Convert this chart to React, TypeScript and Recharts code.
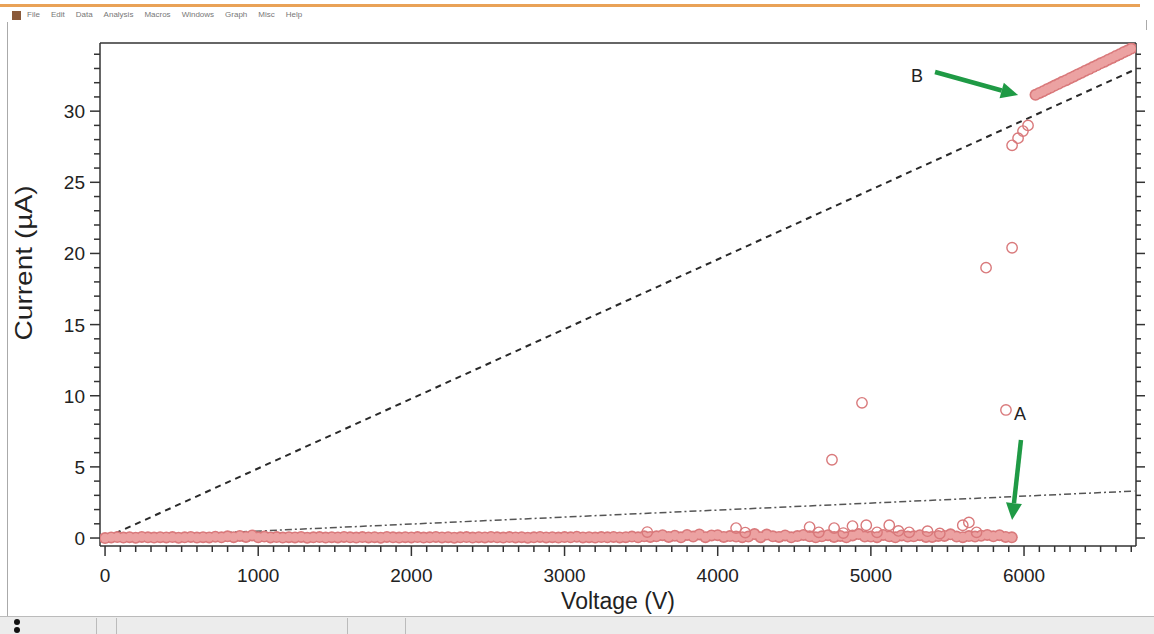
import React from 'react'
import { ComposedChart, Scatter, Line, XAxis, YAxis, ReferenceLine, ReferenceDot } from 'recharts'

// sweep near zero current, 0 .. 5920 V
const bandVoltage = [
  0, 40, 80, 120, 160, 200, 240, 280, 320, 360,
  400, 440, 480, 520, 560, 600, 640, 680, 720, 760,
  800, 840, 880, 920, 960, 1000, 1040, 1080, 1120, 1160,
  1200, 1240, 1280, 1320, 1360, 1400, 1440, 1480, 1520, 1560,
  1600, 1640, 1680, 1720, 1760, 1800, 1840, 1880, 1920, 1960,
  2000, 2040, 2080, 2120, 2160, 2200, 2240, 2280, 2320, 2360,
  2400, 2440, 2480, 2520, 2560, 2600, 2640, 2680, 2720, 2760,
  2800, 2840, 2880, 2920, 2960, 3000, 3040, 3080, 3120, 3160,
  3200, 3240, 3280, 3320, 3360, 3400, 3440, 3480, 3520, 3560,
  3600, 3640, 3680, 3720, 3760, 3800, 3840, 3880, 3920, 3960,
  4000, 4040, 4080, 4120, 4160, 4200, 4240, 4280, 4320, 4360,
  4400, 4440, 4480, 4520, 4560, 4600, 4640, 4680, 4720, 4760,
  4800, 4840, 4880, 4920, 4960, 5000, 5040, 5080, 5120, 5160,
  5200, 5240, 5280, 5320, 5360, 5400, 5440, 5480, 5520, 5560,
  5600, 5640, 5680, 5720, 5760, 5800, 5840, 5880, 5920,
]
const bandCurrent = [
  0.0, 0.04, 0.07, 0.03, 0.06, 0.02, 0.08, 0.05, 0.03, 0.06,
  0.04, 0.07, 0.02, 0.05, 0.08, 0.03, 0.06, 0.04, 0.09, 0.05,
  0.12, 0.06, 0.15, 0.08, 0.18, 0.05, 0.1, 0.04, 0.07, 0.03,
  0.06, 0.04, 0.08, 0.02, 0.05, 0.07, 0.03, 0.06, 0.04, 0.08,
  0.05, 0.03, 0.07, 0.04, 0.06, 0.02, 0.08, 0.05, 0.03, 0.06,
  0.04, 0.07, 0.03, 0.05, 0.08, 0.04, 0.06, 0.02, 0.05, 0.07,
  0.03, 0.06, 0.04, 0.08, 0.05, 0.03, 0.07, 0.04, 0.06, 0.02,
  0.05, 0.08, 0.04, 0.06, 0.03, 0.07, 0.05, 0.09, 0.04, 0.06,
  0.03, 0.07, 0.05, 0.08, 0.04, 0.06, 0.1, 0.05, 0.12, 0.08,
  0.12, 0.2, 0.08, 0.16, 0.05, 0.22, 0.1, 0.25, 0.06, 0.18,
  0.2, 0.08, 0.14, 0.1, 0.06, 0.1, 0.28, 0.06, 0.24, 0.12,
  0.08, 0.18, 0.05, 0.14, 0.22, 0.12, 0.05, 0.12, 0.2, 0.08,
  0.15, 0.05, 0.18, 0.28, 0.1, 0.1, 0.06, 0.22, 0.12, 0.05,
  0.18, 0.1, 0.12, 0.2, 0.08, 0.08, 0.15, 0.15, 0.26, 0.1,
  0.06, 0.14, 0.1, 0.16, 0.22, 0.12, 0.2, 0.08, 0.05,
]

// single readings that jump above the band before breakdown
const spikeVoltage = [
  3540, 4120, 4180, 4600, 4660, 4760, 4820, 4880, 4970, 5040,
  5120, 5180, 5250, 5370, 5450, 5600, 5640, 5690,
]
const spikeCurrent = [
  0.42, 0.7, 0.38, 0.77, 0.4, 0.7, 0.35, 0.84, 0.9, 0.4,
  0.9, 0.5, 0.4, 0.48, 0.32, 0.9, 1.1, 0.4,
]

// scattered points during the transition
const jumpVoltage = [4746, 4942, 5752, 5882, 5922, 5922, 5961, 5993, 6026]
const jumpCurrent = [5.5, 9.5, 19.0, 9.0, 20.4, 27.6, 28.1, 28.6, 29.0]

// upper branch after B
const upperVoltage = [
  6075, 6100, 6125, 6150, 6175, 6200, 6225, 6250, 6275, 6300, 6325, 6350, 6375,
  6400, 6425, 6450, 6475, 6500, 6525, 6550, 6575, 6600, 6625, 6650, 6675, 6700,
]
const upperCurrent = [
  31.15, 31.28, 31.4, 31.54, 31.66, 31.8, 31.92, 32.06, 32.18, 32.32, 32.44, 32.58, 32.7,
  32.84, 32.96, 33.1, 33.22, 33.36, 33.48, 33.62, 33.74, 33.88, 34.0, 34.14, 34.26, 34.4,
]

// reference lines (ohmic fits)
const steepFit = [{ v: 0, i: 0 }, { v: 6720, i: 32.9 }]
const shallowFit = [{ v: 0, i: 0 }, { v: 6720, i: 3.3 }]

// annotations
const arrowB = [{ v: 5419, i: 32.75 }, { v: 5961, i: 31.13 }]
const arrowA = [{ v: 5980, i: 6.89 }, { v: 5922, i: 1.26 }]
const labelB = { v: 5301, i: 32.54 }
const labelA = { v: 5974, i: 8.78 }

const xMajor = [0, 1000, 2000, 3000, 4000, 5000, 6000]
const yMajor = [0, 5, 10, 15, 20, 25, 30]
const xTicks = Array.from({ length: 68 }, (_, k) => k * 100)
const yTicks = Array.from({ length: 35 }, (_, k) => k)

const pts = (vs: number[], is: number[]) => vs.map((v, k) => ({ v, i: is[k] }))
const solidPoints = [...pts(bandVoltage, bandCurrent), ...pts(upperVoltage, upperCurrent)]
const ringPoints = [...pts(spikeVoltage, spikeCurrent), ...pts(jumpVoltage, jumpCurrent)]

const FONT = '"Liberation Sans", Arial, sans-serif'
const AXIS = '#333'
const GREEN = '#1f9a45'
const RING = '#d9797b'

const BottomTick = ({ x, y, payload }: any) => {
  const major = xMajor.includes(payload.value)
  return (
    <g>
      <line x1={x} x2={x} y1={y} y2={y + (major ? 10 : 6)} stroke={AXIS} strokeWidth={1.5} />
      {major && (
        <text x={x} y={y + 36} textAnchor="middle" fontSize={19} fontFamily={FONT} fill="#222">
          {payload.value}
        </text>
      )}
    </g>
  )
}

const TopTick = ({ x, y, payload }: any) => {
  const major = xMajor.includes(payload.value)
  return <line x1={x} x2={x} y1={y} y2={y - (major ? 10 : 5)} stroke={AXIS} strokeWidth={1.5} />
}

const LeftTick = ({ x, y, payload }: any) => {
  const major = yMajor.includes(payload.value)
  return (
    <g>
      <line x1={x} x2={x - (major ? 10 : 6)} y1={y} y2={y} stroke={AXIS} strokeWidth={1.5} />
      {major && (
        <text x={x - 15} y={y + 7} textAnchor="end" fontSize={19} fontFamily={FONT} fill="#222">
          {payload.value}
        </text>
      )}
    </g>
  )
}

const RightTick = ({ x, y, payload }: any) => {
  const major = yMajor.includes(payload.value)
  return <line x1={x} x2={x + (major ? 9 : 5)} y1={y} y2={y} stroke={AXIS} strokeWidth={1.5} />
}

// the dense sweep is drawn in two passes: a dark outer disc, then a lighter inner one
const OuterDisc = ({ cx, cy }: any) => <circle cx={cx} cy={cy} r={6} fill={RING} />
const InnerDisc = ({ cx, cy }: any) => <circle cx={cx} cy={cy} r={4.4} fill="#eca2a2" />

const Ring = ({ cx, cy }: any) => (
  <circle cx={cx} cy={cy} r={5.2} fill="none" stroke={RING} strokeWidth={1.4} />
)

const Arrow = ({ x1, y1, x2, y2 }: any) => {
  const a = Math.atan2(y2 - y1, x2 - x1)
  const hl = 17
  const hw = 8
  const bx = x2 - hl * Math.cos(a)
  const by = y2 - hl * Math.sin(a)
  const nx = -Math.sin(a) * hw
  const ny = Math.cos(a) * hw
  return (
    <g>
      <line x1={x1} y1={y1} x2={bx} y2={by} stroke={GREEN} strokeWidth={4.5} />
      <polygon points={`${x2},${y2} ${bx + nx},${by + ny} ${bx - nx},${by - ny}`} fill={GREEN} />
    </g>
  )
}

const Letter = (text: string) => ({ cx, cy }: any) => (
  <text x={cx} y={cy + 6.5} textAnchor="middle" fontSize={18} fontFamily={FONT} fill="#222">
    {text}
  </text>
)

const menu = ['File', 'Edit', 'Data', 'Analysis', 'Macros', 'Windows', 'Graph', 'Misc', 'Help']

export default function App() {
  return (
    <div style={{ position: 'absolute', left: 0, top: 0, width: 1154, height: 634, background: '#fff', overflow: 'hidden' }}>
      <div style={{ position: 'absolute', left: 0, top: 4, width: 1140, height: 3, background: '#e9a257' }} />
      <div style={{ position: 'absolute', left: 12, top: 11, width: 9, height: 9, background: '#8a5a3a' }} />
      <div style={{ position: 'absolute', left: 27, top: 10, display: 'flex', gap: 11, fontSize: 8, color: '#777', fontFamily: FONT }}>
        {menu.map((m) => (
          <span key={m}>{m}</span>
        ))}
      </div>
      <div style={{ position: 'absolute', left: 7, top: 22, width: 1, height: 594, background: '#aaa' }} />
      <div style={{ position: 'absolute', left: 1146, top: 20, width: 1, height: 10, background: '#aaa' }} />
      <div style={{ position: 'absolute', left: 0, top: 616, width: 1154, height: 18, background: '#ececec', borderTop: '1px solid #bbb' }}>
        <div style={{ position: 'absolute', left: 14, top: 2, width: 6, height: 6, borderRadius: 3, background: '#111' }} />
        <div style={{ position: 'absolute', left: 14, top: 10, width: 6, height: 6, borderRadius: 3, background: '#111' }} />
        {[96, 116, 347, 405].map((x) => (
          <div key={x} style={{ position: 'absolute', left: x, top: 1, width: 1, height: 16, background: '#bbb' }} />
        ))}
      </div>

      <div style={{ position: 'absolute', left: 0, top: 0 }}>
        <ComposedChart width={1154} height={634} margin={{ top: 33, right: 8, bottom: 28, left: 40 }}>
          <XAxis
            xAxisId="b"
            dataKey="v"
            type="number"
            domain={[-33, 6731]}
            allowDataOverflow
            ticks={xTicks}
            interval={0}
            tick={BottomTick}
            tickLine={false}
            tickSize={0}
            tickMargin={0}
            height={60}
            axisLine={{ stroke: AXIS, strokeWidth: 1.5 }}
            label={({ viewBox }: any) => (
              <text
                x={viewBox.x + viewBox.width / 2}
                y={viewBox.y + 63}
                textAnchor="middle"
                fontSize={23}
                fontFamily={FONT}
                fill="#222"
              >
                Voltage (V)
              </text>
            )}
          />
          <XAxis
            xAxisId="t"
            orientation="top"
            type="number"
            domain={[-33, 6731]}
            allowDataOverflow
            ticks={xTicks}
            interval={0}
            tick={TopTick}
            tickLine={false}
            tickSize={0}
            tickMargin={0}
            height={10}
            axisLine={{ stroke: AXIS, strokeWidth: 1.5 }}
          />
          <YAxis
            yAxisId="l"
            type="number"
            domain={[-0.56, 34.79]}
            allowDataOverflow
            ticks={yTicks}
            interval={0}
            tick={LeftTick}
            tickLine={false}
            tickSize={0}
            tickMargin={0}
            width={60}
            axisLine={{ stroke: AXIS, strokeWidth: 1.5 }}
            label={() => (
              <text
                x={32}
                y={263}
                transform="rotate(-90 32 263)"
                textAnchor="middle"
                fontSize={24}
                fontFamily={FONT}
                fill="#222"
                textLength={155}
                lengthAdjust="spacingAndGlyphs"
              >
                Current (µA)
              </text>
            )}
          />
          <YAxis
            yAxisId="r"
            orientation="right"
            type="number"
            domain={[-0.56, 34.79]}
            allowDataOverflow
            ticks={yTicks}
            interval={0}
            tick={RightTick}
            tickLine={false}
            tickSize={0}
            tickMargin={0}
            width={10}
            axisLine={{ stroke: AXIS, strokeWidth: 1.5 }}
          />

          <Scatter xAxisId="b" yAxisId="l" data={solidPoints} dataKey="i" shape={OuterDisc} isAnimationActive={false} />
          <Scatter xAxisId="b" yAxisId="l" data={solidPoints} dataKey="i" shape={InnerDisc} isAnimationActive={false} />
          <Scatter xAxisId="b" yAxisId="l" data={ringPoints} dataKey="i" shape={Ring} isAnimationActive={false} />
          <Line
            xAxisId="b"
            yAxisId="l"
            data={steepFit}
            dataKey="i"
            type="linear"
            stroke="#2a2a2a"
            strokeWidth={2}
            strokeDasharray="6 5"
            dot={false}
            isAnimationActive={false}
          />
          <Line
            xAxisId="b"
            yAxisId="l"
            data={shallowFit}
            dataKey="i"
            type="linear"
            stroke="#555"
            strokeWidth={1.5}
            strokeDasharray="7 3 2 3"
            dot={false}
            isAnimationActive={false}
          />

          <ReferenceLine
            xAxisId="b"
            yAxisId="l"
            segment={[{ x: arrowB[0].v, y: arrowB[0].i }, { x: arrowB[1].v, y: arrowB[1].i }]}
            shape={Arrow}
          />
          <ReferenceLine
            xAxisId="b"
            yAxisId="l"
            segment={[{ x: arrowA[0].v, y: arrowA[0].i }, { x: arrowA[1].v, y: arrowA[1].i }]}
            shape={Arrow}
          />
          <ReferenceDot xAxisId="b" yAxisId="l" x={labelB.v} y={labelB.i} r={0} shape={Letter('B')} />
          <ReferenceDot xAxisId="b" yAxisId="l" x={labelA.v} y={labelA.i} r={0} shape={Letter('A')} />
        </ComposedChart>
      </div>
    </div>
  )
}
